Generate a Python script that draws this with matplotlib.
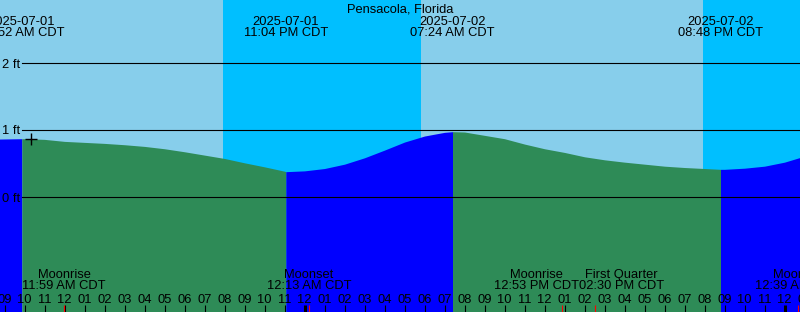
import matplotlib
matplotlib.use("Agg")
import matplotlib.pyplot as plt
import matplotlib.transforms as mtransforms
import numpy as np

# ---------------- data ----------------
title = "Pensacola, Florida"

# hours relative to 2025-07-02 00:00 CDT
tide_hours = list(range(-16, 26))
tide_ft = [0.86, 0.866, 0.87, 0.86, 0.83, 0.815, 0.80, 0.78, 0.755, 0.72,
           0.675, 0.625, 0.575, 0.51, 0.45, 0.385, 0.39, 0.425, 0.49, 0.585,
           0.70, 0.82, 0.91, 0.965, 0.97, 0.92, 0.87, 0.79, 0.72, 0.665,
           0.60, 0.555, 0.52, 0.49, 0.46, 0.44, 0.425, 0.413, 0.43, 0.46,
           0.52, 0.61]

# high / low tide events
event_hours = [-14.133, -0.933, 7.4, 20.8]
event_ft = [0.87, 0.378, 0.975, 0.413]
event_kind = ["high", "low", "high", "low"]
event_date = ["2025-07-01", "2025-07-01", "2025-07-02", "2025-07-02"]
event_time = ["09:52 AM CDT", "11:04 PM CDT", "07:24 AM CDT", "08:48 PM CDT"]

# sun: night intervals (sunset -> sunrise)
night_start = [-4.067, 19.933]
night_end = [5.833, 30.0]

# moon events
moon_hours = [-12.017, 0.217, 12.883, 14.5, 24.65]
moon_name = ["Moonrise", "Moonset", "Moonrise", "First Quarter", "Moonset"]
moon_time = ["11:59 AM CDT", "12:13 AM CDT", "12:53 PM CDT", "02:30 PM CDT", "12:39 AM CDT"]

# hour ticks
tick_hours = list(range(-16, 26))
tick_labels = ["08", "09", "10", "11", "12", "01", "02", "03", "04", "05", "06", "07",
               "08", "09", "10", "11", "12", "01", "02", "03", "04", "05", "06", "07",
               "08", "09", "10", "11", "12", "01", "02", "03", "04", "05", "06", "07",
               "08", "09", "10", "11", "12", "01"]
midnight_hours = [0, 24]

y_levels = [0, 1, 2]
y_labels = ["0 ft", "1 ft", "2 ft"]

now_hour = -13.7
now_ft = 0.866

# ---------------- style ----------------
DAY = "#87CEEB"
NIGHT = "#00BFFF"
RISING = "#0000FF"
FALLING = "#2E8B57"
W, H = 800, 312
PX_PER_HOUR = 20.0
X0 = 304.5          # pixel of midnight
Y0 = 197.0          # pixel of 0 ft
PX_PER_FT = 67.0
moon_label_shift_px = [0, 0, -26, 27, 0]   # label de-overlap offsets

plt.rcParams['font.family'] = ['Liberation Sans', 'DejaVu Sans']
FS = 9.3

fig = plt.figure(figsize=(W / 100, H / 100), dpi=100)
ax = fig.add_axes([0, 0, 1, 1])
ax.set_xlim(-X0 / PX_PER_HOUR, (W - X0) / PX_PER_HOUR)
ax.set_ylim((Y0 - H) / PX_PER_FT, Y0 / PX_PER_FT)
ax.axis("off")
ax.set_facecolor(DAY)
fig.patch.set_facecolor(DAY)

def yfrac(py):
    return 1 - py / H

bt = mtransforms.blended_transform_factory(ax.transData, ax.transAxes)

# background day / night
ax.axvspan(ax.get_xlim()[0], ax.get_xlim()[1], color=DAY, zorder=0, lw=0)
for s, e in zip(night_start, night_end):
    ax.axvspan(s, e, color=NIGHT, zorder=0.5, lw=0)

# tide curve, split by rising / falling
t_all = np.array(tide_hours + event_hours, dtype=float)
h_all = np.array(tide_ft + event_ft, dtype=float)
order = np.argsort(t_all)
t_all, h_all = t_all[order], h_all[order]
bottom = ax.get_ylim()[0]
bounds = [-100] + event_hours + [100]
for i in range(len(bounds) - 1):
    a, b = bounds[i], bounds[i + 1]
    m = (t_all >= a) & (t_all <= b)
    if i < len(event_kind):
        rising = event_kind[i] == "high"
    else:
        rising = event_kind[-1] == "low"
    ax.fill_between(t_all[m], h_all[m], bottom, color=RISING if rising else FALLING,
                    lw=0, zorder=1)

# horizontal level lines
for lv, lab in zip(y_levels, y_labels):
    ax.axhline(lv, xmin=22 / W, xmax=1, color="black", lw=0.8, zorder=3)
    py = Y0 - lv * PX_PER_FT
    ax.text(2 / W, yfrac(py + 4.5), lab, transform=ax.transAxes, ha="left",
            va="baseline", fontsize=FS, zorder=4)

# now marker
ax.plot([now_hour], [now_ft], marker="+", ms=9, mew=1, color="black", zorder=4)

# title
ax.text(0.5, yfrac(12), title, transform=ax.transAxes, ha="center", va="baseline",
        fontsize=FS, zorder=4)

# tide event labels
for t, d, tm in zip(event_hours, event_date, event_time):
    ax.text(t, yfrac(25), d, transform=bt, ha="center", va="baseline", fontsize=FS, zorder=4)
    ax.text(t, yfrac(36.5), tm, transform=bt, ha="center", va="baseline", fontsize=FS, zorder=4)

# moon event labels
for t, n, tm, sh in zip(moon_hours, moon_name, moon_time, moon_label_shift_px):
    tt = t + sh / PX_PER_HOUR
    ax.text(tt, yfrac(278), n, transform=bt, ha="center", va="baseline", fontsize=FS, zorder=4)
    ax.text(tt, yfrac(289.3), tm, transform=bt, ha="center", va="baseline", fontsize=FS, zorder=4)

# hour ticks and labels
for t, lab in zip(tick_hours, tick_labels):
    ax.text(t, yfrac(303.3), lab, transform=bt, ha="center", va="baseline", fontsize=FS, zorder=4)
    lw = 2.2 if t in midnight_hours else 0.8
    ax.plot([t, t], [yfrac(305), 0], transform=bt, color="black", lw=lw,
            solid_capstyle="butt", zorder=4)
for t in moon_hours:
    ax.plot([t, t], [yfrac(305), 0], transform=bt, color="red", lw=0.8,
            solid_capstyle="butt", zorder=5)

fig.savefig("out.png", dpi=100, facecolor=DAY)
